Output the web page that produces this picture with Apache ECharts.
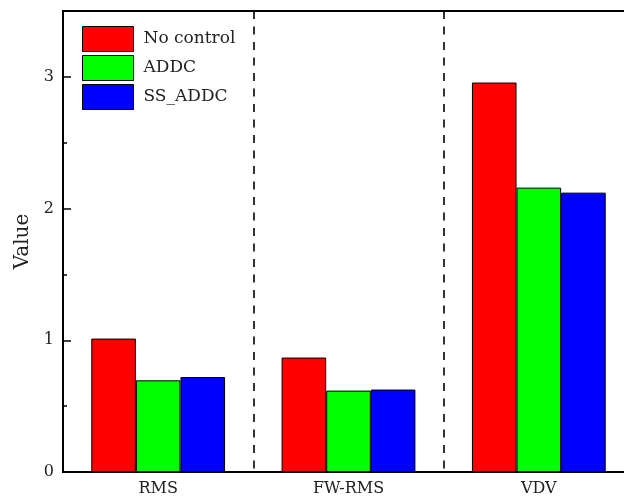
<!DOCTYPE html>
<html>
<head>
<meta charset="utf-8">
<script src="https://cdn.jsdelivr.net/npm/echarts@6/dist/echarts.min.js"></script>
<style>html,body{margin:0;padding:0;background:#fff;overflow:hidden;width:624px;height:497px;}#c{width:636px;height:497px;}</style>
</head>
<body>
<div id="c"></div>
<script>
const categories = ['RMS', 'FW-RMS', 'VDV'];
const seriesNames = ['No control', 'ADDC', 'SS_ADDC'];
const noControl = [1.013, 0.869, 2.957];
const addc = [0.696, 0.618, 2.159];
const ssAddc = [0.721, 0.626, 2.121];
const yTicks = [0, 1, 2, 3];

const colors = ['#ff0000', '#00ff00', '#0000ff'];
const values = [noControl, addc, ssAddc];
const font = 'DejaVu Serif';

const chart = echarts.init(document.getElementById('c'), null, {renderer: 'canvas'});
chart.setOption({
  animation: false,
  backgroundColor: '#fff',
  grid: {
    left: 63, top: 11, width: 571, height: 461,
    show: true, borderColor: '#000', borderWidth: 2, backgroundColor: 'transparent'
  },
  legend: {
    orient: 'vertical', left: 77, top: 21,
    itemWidth: 51, itemHeight: 25, itemGap: 3,
    icon: 'rect',
    textStyle: {fontFamily: font, fontSize: 17, color: '#222', padding: [0, 0, 0, 5]},
    itemStyle: {borderColor: '#000', borderWidth: 1},
    data: seriesNames
  },
  xAxis: {
    type: 'category', data: categories, boundaryGap: true,
    axisLine: {lineStyle: {color: '#000', width: 2}},
    axisTick: {show: false},
    axisLabel: {fontFamily: font, fontSize: 16, color: '#222', margin: 9},
    splitLine: {show: true, interval: 0, lineStyle: {color: '#000', width: 1.6, type: [8, 7.5]}}
  },
  yAxis: {
    type: 'value', min: 0, max: 3.5, interval: 1,
    name: 'Value', nameLocation: 'middle', nameGap: 28,
    nameTextStyle: {fontFamily: font, fontSize: 20, color: '#222'},
    axisLine: {show: true, lineStyle: {color: '#000', width: 2}},
    axisTick: {show: true, inside: true, length: 8, lineStyle: {color: '#000', width: 1.5}},
    minorTick: {show: true, splitNumber: 2, length: 4, lineStyle: {color: '#000', width: 1.5}},
    axisLabel: {fontFamily: font, fontSize: 16, color: '#222', margin: 9,
      formatter: v => (yTicks.indexOf(v) >= 0 ? String(v) : '')},
    splitLine: {show: false}
  },
  series: seriesNames.map((n, i) => ({
    name: n, type: 'bar', data: values[i],
    barWidth: 44.6, barGap: '0%',
    itemStyle: {color: colors[i], borderColor: '#000', borderWidth: 1}
  }))
});
</script>
</body>
</html>
